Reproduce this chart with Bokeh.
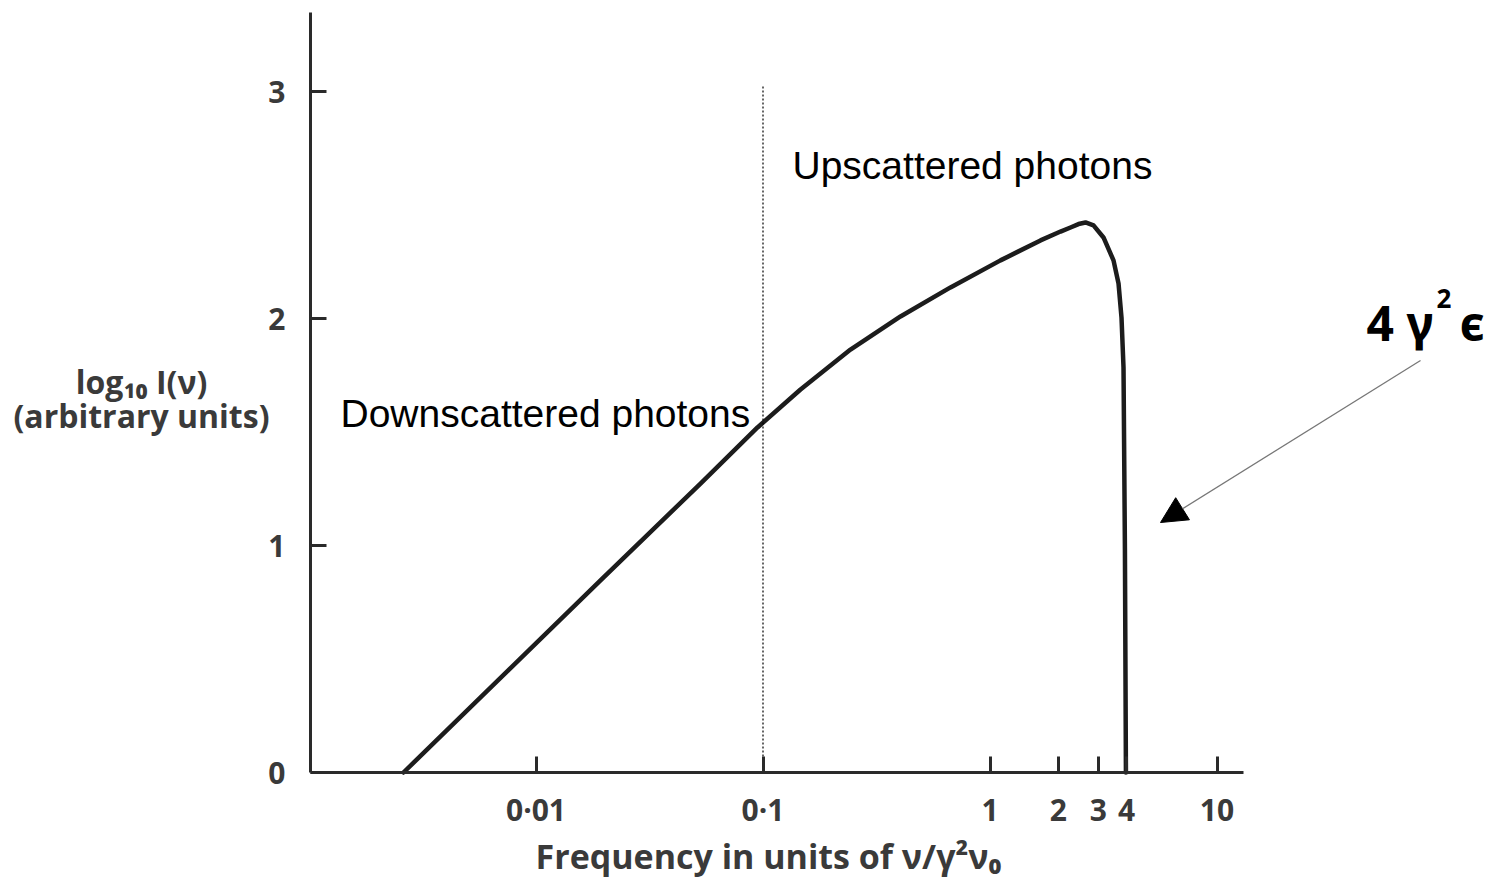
from bokeh.plotting import figure
from bokeh.models import (Range1d, FixedTicker, Label, Arrow, NormalHead,
                          ColumnDataSource, LinearAxis, LogAxis, LogScale, Grid)
from bokeh.embed import file_html
from bokeh.resources import INLINE

# ---- data ----
freq = [0.002608, 0.01924, 0.05305, 0.09458, 0.1463, 0.2429, 0.4034, 0.6699,
        1.112, 1.669, 2.045, 2.263, 2.454, 2.635, 2.858, 3.162, 3.500, 3.683,
        3.796, 3.874, 3.93, 3.97]
log_intensity = [0.0, 0.846, 1.273, 1.520, 1.687, 1.863, 2.009, 2.137,
                 2.256, 2.344, 2.383, 2.401, 2.416, 2.423, 2.410, 2.357, 2.256, 2.154,
                 2.004, 1.784, 0.978, 0.0]

x_ticks = [0.01, 0.1, 1, 2, 3, 4, 10]
x_tick_labels = ["0·01", "0·1", "1", "2", "3", "4", "10"]
y_ticks = [0, 1, 2, 3]

divider_x = [0.1]
divider_y0 = [0.0]
divider_y1 = [3.03]

X_MIN, X_MAX = 0.001015, 13.08   # extent of the drawn x axis
Y_MIN, Y_MAX = 0.0, 3.35         # extent of the drawn y axis

# ---- layout helpers (canvas pixel -> data position for annotations) ----
DEC = 227.0      # pixels per decade / per unit
X1_PX = 989.5    # pixel of x = 1
Y0_PX = 772.0    # pixel of y = 0


def px2x(px):
    return 10 ** ((px - X1_PX) / DEC)


def py2y(py):
    return (Y0_PX - py) / DEC


FONT = "Open Sans"
INK = "#2a2a2a"
LABEL_INK = "#3a3a3a"
W, H = 1501, 883

p = figure(width=W, height=H, x_axis_type="log",
           x_axis_location=None, y_axis_location=None,
           x_range=Range1d(px2x(0), px2x(W)), y_range=Range1d(py2y(H), py2y(0)),
           output_backend="svg", toolbar_location=None,
           min_border=0)
p.x_scale = LogScale()
p.outline_line_color = None
p.background_fill_color = "white"
p.border_fill_color = "white"
p.renderers = [r for r in p.renderers if not isinstance(r, Grid)]
p.center = [r for r in p.center if not isinstance(r, Grid)]

xaxis = LogAxis(fixed_location=0, bounds=(X_MIN, X_MAX))
yaxis = LinearAxis(fixed_location=X_MIN, bounds=(Y_MIN, Y_MAX))
for ax in (xaxis, yaxis):
    ax.axis_line_width = 3
    ax.axis_line_color = INK
    ax.major_tick_line_width = 3
    ax.major_tick_line_color = INK
    ax.major_tick_in = 16
    ax.major_tick_out = 0
    ax.minor_tick_line_color = None
    ax.major_label_text_font = FONT
    ax.major_label_text_font_style = "bold"
    ax.major_label_text_font_size = "30px"
    ax.major_label_text_color = LABEL_INK
xaxis.major_label_standoff = 16
yaxis.major_label_standoff = 25
xaxis.ticker = FixedTicker(ticks=x_ticks)
xaxis.major_label_overrides = {t: s for t, s in zip(x_ticks, x_tick_labels)}
yaxis.ticker = FixedTicker(ticks=y_ticks)
p.add_layout(xaxis, "below")
p.add_layout(yaxis, "left")

# curve
src = ColumnDataSource(dict(x=freq, y=log_intensity))
p.line("x", "y", source=src, line_width=4.5, line_color="#1c1c1c",
       line_join="round", line_cap="round")

# dotted divider at 0.1
p.segment(x0=divider_x, y0=divider_y0, x1=divider_x, y1=divider_y1,
          line_color="black", line_width=1.2, line_dash="2 2")

# annotations
p.add_layout(Label(x=px2x(792), y=py2y(165), text="Upscattered photons",
                   text_font="Liberation Sans", text_font_size="39px",
                   text_color="black", text_baseline="alphabetic"))
p.add_layout(Label(x=px2x(340), y=py2y(413), text="Downscattered photons",
                   text_font="Liberation Sans", text_font_size="39px",
                   text_color="black", text_baseline="alphabetic"))

# 4 gamma^2 epsilon
p.add_layout(Label(x=px2x(1366), y=py2y(322), text="4 γ", text_font="Noto Sans",
                   text_font_style="bold", text_font_size="48px",
                   text_color="black", text_baseline="alphabetic"))
p.add_layout(Label(x=px2x(1436), y=py2y(298), text="2", text_font="Noto Sans",
                   text_font_style="bold", text_font_size="26px",
                   text_color="black", text_baseline="alphabetic"))
p.add_layout(Label(x=px2x(1459), y=py2y(322), text="ϵ", text_font="Noto Sans",
                   text_font_style="bold", text_font_size="48px",
                   text_color="black", text_baseline="alphabetic"))

p.add_layout(Arrow(x_start=px2x(1420), y_start=py2y(360),
                   x_end=px2x(1160), y_end=py2y(522),
                   line_color="#777777", line_width=1.3,
                   end=NormalHead(size=26, fill_color="black", line_color="black")))

# y-axis title (horizontal, at the left)
p.add_layout(Label(x=px2x(141), y=py2y(381), text="log₁₀ I(ν)",
                   text_font=FONT, text_font_style="bold", text_font_size="32px",
                   text_color=LABEL_INK, text_align="center", text_baseline="alphabetic"))
p.add_layout(Label(x=px2x(141), y=py2y(415), text="(arbitrary units)",
                   text_font=FONT, text_font_style="bold", text_font_size="32px",
                   text_color=LABEL_INK, text_align="center", text_baseline="alphabetic"))

# x-axis title
p.add_layout(Label(x=px2x(768), y=py2y(855), text="Frequency in units of ν/γ²ν₀",
                   text_font=FONT, text_font_style="bold", text_font_size="34px",
                   text_color=LABEL_INK, text_align="center", text_baseline="alphabetic"))

open("out.html", "w").write(file_html(p, INLINE))
